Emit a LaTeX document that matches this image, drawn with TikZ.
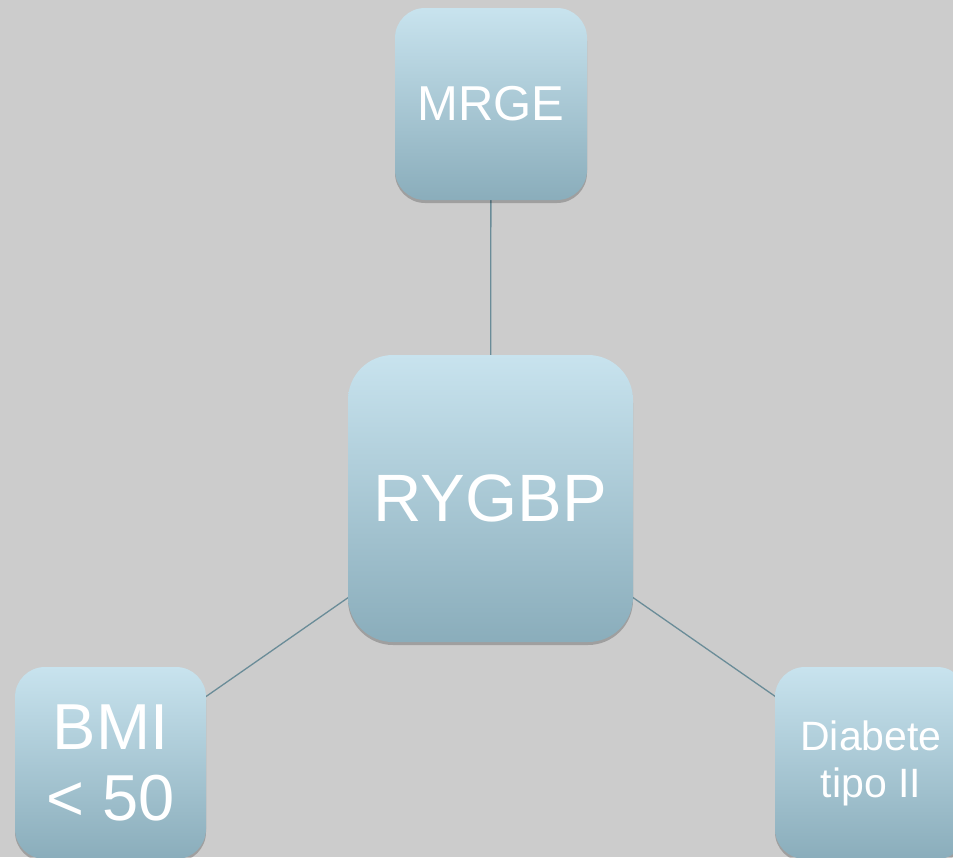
\documentclass[tikz,border=0pt]{standalone}
\usepackage{fontspec}
\setmainfont{Liberation Sans}
\usetikzlibrary{shadows}
\definecolor{bgc}{HTML}{CCCCCC}
\definecolor{boxtop}{HTML}{C8E3EE}
\definecolor{boxbot}{HTML}{8AADBB}
\definecolor{linec}{HTML}{6A8C98}
\pgfdeclarelayer{bg}
\pgfdeclarelayer{lines}
\pgfsetlayers{bg,lines,main}
\tikzset{
  boxnode/.style={draw=none, top color=boxtop, bottom color=boxbot, text=white,
    align=center, inner sep=0pt, rounded corners=#1,
    drop shadow={shadow xshift=0pt, shadow yshift=-3pt, opacity=0.22, fill=black}},
  conn/.style={draw=linec, line width=1.3pt}
}
\begin{document}
\begin{tikzpicture}[x=1pt,y=-1pt]
\useasboundingbox (0,0) rectangle (953,857);
\clip (0,0) rectangle (953,857);
\begin{pgfonlayer}{bg}
\fill[bgc] (0,0) rectangle (953,857);
\end{pgfonlayer}
\node[boxnode=30pt, minimum width=192pt, minimum height=192pt, font=\fontsize{49}{54}\selectfont] (mrge) at (491,104) {MRGE};
\node[boxnode=45pt, minimum width=285pt, minimum height=287pt, font=\fontsize{67}{74}\selectfont] (rygbp) at (490.5,498.5) {RYGBP};
\node[boxnode=30pt, minimum width=191pt, minimum height=192pt, font=\fontsize{65}{71}\selectfont] (bmi) at (110.5,763) {BMI\\{}< 50};
\node[boxnode=30pt, minimum width=192pt, minimum height=192pt, font=\fontsize{41}{47}\selectfont] (diab) at (871,763) {Diabete\\tipo II};
\begin{pgfonlayer}{lines}
\draw[conn] (mrge.center) -- (rygbp.center);
\draw[conn] (rygbp.center) -- (bmi.center);
\draw[conn] (rygbp.center) -- (diab.center);
\end{pgfonlayer}
\end{tikzpicture}
\end{document}
